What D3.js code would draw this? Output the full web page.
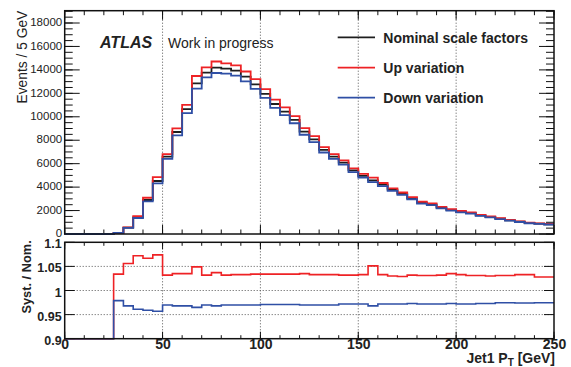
<!DOCTYPE html>
<html>
<head>
<meta charset="utf-8">
<script src="https://cdn.jsdelivr.net/npm/d3@7"></script>
<style>
  html, body { margin: 0; padding: 0; background: #fff; }
  svg { display: block; font-family: "Liberation Sans", Arial, Helvetica, sans-serif; }
</style>
</head>
<body>
<svg id="chart" width="571" height="367"></svg>
<script>
// ---------------- data ----------------
const binWidth = 5;
const xDomain = [0, 250];
// Nominal histogram (events / 5 GeV), 50 bins from 0 to 250 GeV
const nominal = [
  0, 0, 0, 0, 0,
  100, 540, 1420, 2900, 4520,
  6600, 8700, 10650, 12850, 13770,
  14190, 14100, 13930, 13420, 12770,
  11960, 11090, 10440, 9730, 8730,
  8080, 7170, 6600, 6090, 5430,
  4960, 4580, 4210, 3780, 3440,
  3045, 2670, 2530, 2245, 2050,
  1900, 1790, 1590, 1450, 1310,
  1170, 1050, 940, 880, 830
];
// Ratios
const upRatio = [
  0, 0, 0, 0, 0,
  1.034, 1.056, 1.072, 1.067, 1.074,
  1.032, 1.035, 1.035, 1.049, 1.032,
  1.037, 1.032, 1.033, 1.033, 1.034,
  1.034, 1.034, 1.034, 1.034, 1.035,
  1.033, 1.033, 1.033, 1.032, 1.032,
  1.033, 1.051, 1.033, 1.030, 1.029,
  1.032, 1.031, 1.031, 1.032, 1.035,
  1.033, 1.031, 1.031, 1.030, 1.031,
  1.031, 1.033, 1.033, 1.028, 1.028
];
const downRatio = [
  0, 0, 0, 0, 0,
  0.979, 0.968, 0.961, 0.959, 0.957,
  0.970, 0.968, 0.968, 0.965, 0.970,
  0.968, 0.970, 0.970, 0.970, 0.970,
  0.971, 0.971, 0.971, 0.971, 0.970,
  0.970, 0.970, 0.970, 0.972, 0.972,
  0.972, 0.968, 0.972, 0.972, 0.972,
  0.973, 0.972, 0.972, 0.972, 0.973,
  0.972, 0.972, 0.973, 0.973, 0.9745,
  0.9745, 0.974, 0.974, 0.9745, 0.9745
];
const mainYTicks = [0, 2000, 4000, 6000, 8000, 10000, 12000, 14000, 16000, 18000];
const ratioYTicks = [0.9, 0.95, 1, 1.05, 1.1];
const xTicks = [0, 50, 100, 150, 200, 250];
const xGrid = [50, 100, 150, 200];
const ratioGrid = [0.95, 1, 1.05];
const legendLabels = ["Nominal scale factors", "Up variation", "Down variation"];
const seriesColors = ["#1e1e1e", "#ee2225", "#2f4fa5"];

const upVals = nominal.map((v, i) => v * upRatio[i]);
const downVals = nominal.map((v, i) => v * downRatio[i]);

// ---------------- layout ----------------
const L = 64.7, R = 554;
const mainTop = 10.7, mainBot = 234;
const ratTop = 242.3, ratBot = 338.7;

const svg = d3.select("#chart");
const x = d3.scaleLinear().domain(xDomain).range([L, R]);
const yMain = d3.scaleLinear().domain([0, 19050]).range([mainBot, mainTop]);
const yRat = d3.scaleLinear().domain([0.9, 1.1]).range([ratBot, ratTop]).clamp(true);

const textColor = "#222";

function stepPoints(vals) {
  const pts = [];
  vals.forEach((v, i) => {
    const lo = xDomain[0] + i * binWidth;
    pts.push([lo, v], [lo + binWidth, v]);
  });
  return pts;
}

// ---------------- grids ----------------
function vGrid(top, bot) {
  svg.append("g").selectAll("line").data(xGrid).join("line")
    .attr("x1", d => x(d)).attr("x2", d => x(d))
    .attr("y1", top).attr("y2", bot)
    .attr("stroke", "#555").attr("stroke-width", 1).attr("stroke-dasharray", "1,2");
}
vGrid(mainTop, mainBot);
vGrid(ratTop, ratBot);
svg.append("g").selectAll("line").data(ratioGrid).join("line")
  .attr("x1", L).attr("x2", R)
  .attr("y1", d => yRat(d)).attr("y2", d => yRat(d))
  .attr("stroke", "#555").attr("stroke-width", 1).attr("stroke-dasharray", "1,2");

// ---------------- axes / ticks ----------------
function xTicksAt(yPos, dir, vals, len) {
  svg.append("g").selectAll("line").data(vals).join("line")
    .attr("x1", d => x(d)).attr("x2", d => x(d))
    .attr("y1", yPos).attr("y2", yPos + dir * len)
    .attr("stroke", "#111").attr("stroke-width", 1);
}
const xMinor = d3.range(0, 251, 10);
const xMajor = d3.range(0, 251, 50);
xTicksAt(mainBot, -1, xMinor, 4.5);
xTicksAt(mainBot, -1, xMajor, 9);
xTicksAt(mainTop, 1, xMinor, 4.5);
xTicksAt(mainTop, 1, xMajor, 9);
xTicksAt(ratBot, -1, xMinor, 3.5);
xTicksAt(ratBot, -1, xMajor, 7);
xTicksAt(ratTop, 1, xMinor, 3.5);
xTicksAt(ratTop, 1, xMajor, 7);

function yTicks(scale, vals, len, side) {
  const xPos = side === "left" ? L : R;
  const dir = side === "left" ? 1 : -1;
  svg.append("g").selectAll("line").data(vals).join("line")
    .attr("x1", xPos).attr("x2", xPos + dir * len)
    .attr("y1", d => scale(d)).attr("y2", d => scale(d))
    .attr("stroke", "#111").attr("stroke-width", 1);
}
const yMinor = d3.range(0, 19001, 500);
yTicks(yMain, yMinor, 8, "left");
yTicks(yMain, mainYTicks, 15, "left");
yTicks(yMain, yMinor, 8, "right");
yTicks(yMain, mainYTicks, 15, "right");
yTicks(yRat, ratioYTicks, 10, "left");
yTicks(yRat, ratioYTicks, 10, "right");

// Tick labels via d3 axes (tick lines hidden)
const mainAxis = svg.append("g").attr("transform", `translate(${L},-1)`)
  .call(d3.axisLeft(yMain).tickValues(mainYTicks).tickSize(0).tickPadding(2.5).tickFormat(d3.format("d")));
mainAxis.select(".domain").remove();
mainAxis.selectAll("text").attr("font-size", 11.5).attr("fill", textColor).attr("font-family", "Liberation Sans, Arial, sans-serif");

const ratAxis = svg.append("g").attr("transform", `translate(${L},1.5)`)
  .call(d3.axisLeft(yRat).tickValues(ratioYTicks).tickSize(0).tickPadding(3).tickFormat(d => d3.format("")(+d.toFixed(2))));
ratAxis.select(".domain").remove();
ratAxis.selectAll("text").attr("font-size", 12.5).attr("font-weight", "bold").attr("fill", textColor).attr("font-family", "Liberation Sans, Arial, sans-serif");

const xAxis = svg.append("g").attr("transform", `translate(0,${ratBot})`)
  .call(d3.axisBottom(x).tickValues(xTicks).tickSize(0).tickPadding(0).tickFormat(d3.format("d")));
xAxis.select(".domain").remove();
xAxis.selectAll("text").attr("font-size", 14).attr("font-weight", "bold").attr("fill", textColor).attr("font-family", "Liberation Sans, Arial, sans-serif");

// ---------------- histograms ----------------
const lineMain = d3.line().x(d => x(d[0])).y(d => yMain(d[1]));
const lineRat = d3.line().x(d => x(d[0])).y(d => yRat(d[1]));

const mainSeries = [nominal, upVals, downVals];
mainSeries.forEach((vals, k) => {
  svg.append("path").datum(stepPoints(vals)).attr("d", lineMain)
    .attr("fill", "none").attr("stroke", seriesColors[k]).attr("stroke-width", 1.8)
    .attr("stroke-linejoin", "miter");
});
[upRatio, downRatio].forEach((vals, k) => {
  svg.append("path").datum(stepPoints(vals)).attr("d", lineRat)
    .attr("fill", "none").attr("stroke", seriesColors[k + 1]).attr("stroke-width", 1.6);
});

// ---------------- frames ----------------
[[mainTop, mainBot], [ratTop, ratBot]].forEach(([t, b]) => {
  svg.append("rect").attr("x", L).attr("y", t).attr("width", R - L).attr("height", b - t)
    .attr("fill", "none").attr("stroke", "#111").attr("stroke-width", 1.5);
});

// ---------------- labels ----------------
svg.append("text").attr("transform", `translate(27,${mainTop}) rotate(-90)`)
  .attr("text-anchor", "end").attr("font-size", 13.8).attr("fill", textColor)
  .text("Events / 5 GeV");
svg.append("text").attr("transform", `translate(31,${ratTop - 2}) rotate(-90)`)
  .attr("text-anchor", "end").attr("font-size", 12.8).attr("font-weight", "bold").attr("fill", textColor)
  .text("Syst. / Nom.");
const xt = svg.append("text").attr("x", R + 1).attr("y", 362.5).attr("text-anchor", "end")
  .attr("font-size", 14).attr("font-weight", "bold").attr("fill", textColor);
xt.append("tspan").text("Jet1 P");
xt.append("tspan").attr("font-size", 10).attr("dy", 3).text("T");
xt.append("tspan").attr("dy", -3).text(" [GeV]");

svg.append("text").attr("x", 100).attr("y", 48.3).attr("font-size", 16)
  .attr("font-weight", "bold").attr("font-style", "italic").attr("fill", textColor).text("ATLAS");
svg.append("text").attr("x", 168).attr("y", 48.3).attr("font-size", 14)
  .attr("fill", textColor).text("Work in progress");

// legend
const legY = [37.3, 67.7, 97.7];
legendLabels.forEach((lab, k) => {
  svg.append("line").attr("x1", 337.7).attr("x2", 375).attr("y1", legY[k]).attr("y2", legY[k])
    .attr("stroke", seriesColors[k]).attr("stroke-width", 1.8);
  svg.append("text").attr("x", 383.3).attr("y", legY[k] + 5.5).attr("font-size", 14)
    .attr("font-weight", "bold").attr("fill", textColor).text(lab);
});
</script>
</body>
</html>
